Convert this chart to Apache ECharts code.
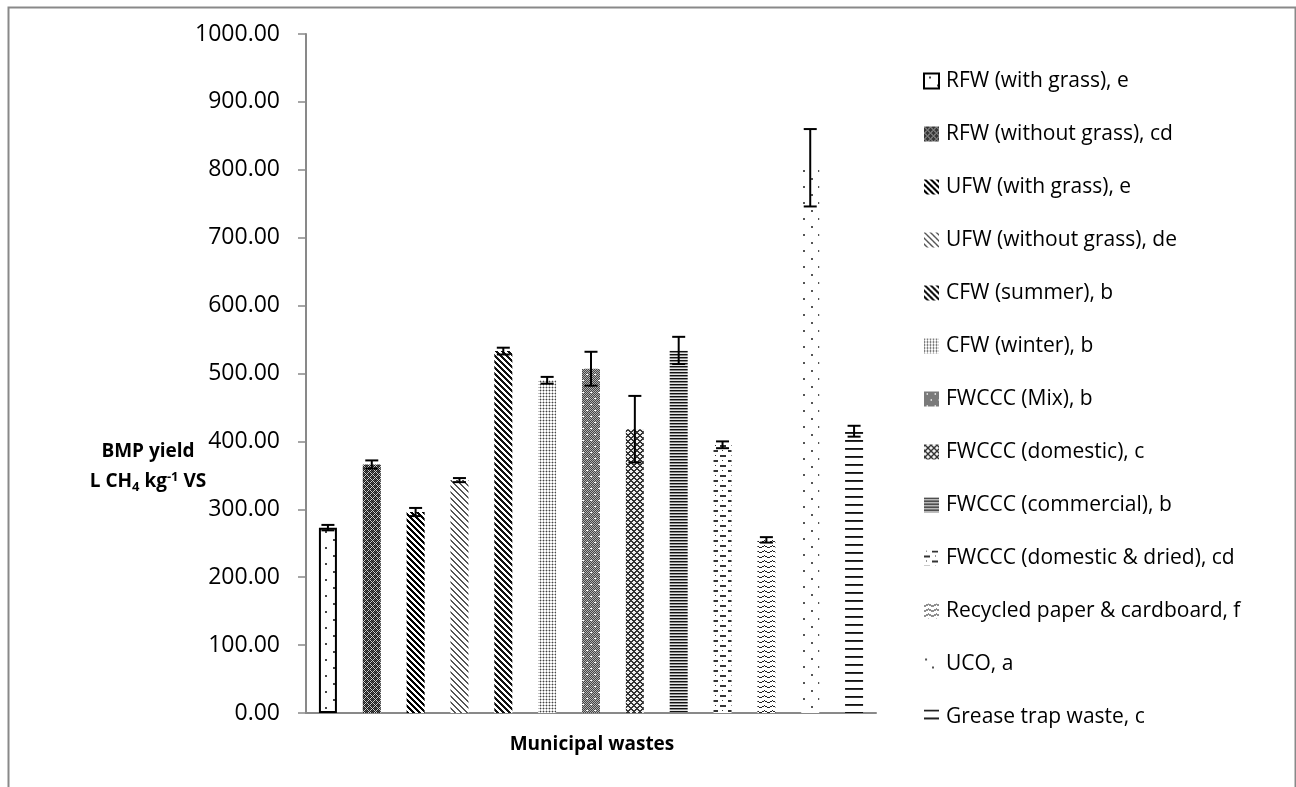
<!DOCTYPE html>
<html>
<head>
<meta charset="utf-8">
<script src="https://cdn.jsdelivr.net/npm/echarts@6/dist/echarts.min.js"></script>
<style>
html,body{margin:0;padding:0;background:#fff;}
#chart{width:1296px;height:787px;}
</style>
</head>
<body>
<div id="chart"></div>
<script>
// ---- data ----
const categories = [
  'RFW (with grass), e',
  'RFW (without grass), cd',
  'UFW (with grass), e',
  'UFW (without grass), de',
  'CFW (summer), b',
  'CFW (winter), b',
  'FWCCC (Mix), b',
  'FWCCC (domestic), c',
  'FWCCC (commercial), b',
  'FWCCC (domestic & dried), cd',
  'Recycled paper & cardboard, f',
  'UCO, a',
  'Grease trap waste, c'
];
const values = [273, 366, 296, 343, 533, 490, 507, 418, 534, 395, 255, 803, 415];
const errors = [4, 6, 6, 3, 5, 5, 25, 49, 20, 5, 4, 57, 8];
const yMin = 0, yMax = 1000, yStep = 100;

// ---- pattern helpers ----
function hex(c){c=c.replace('#','');if(c.length===3)c=c.split('').map(x=>x+x).join('');return [parseInt(c.slice(0,2),16),parseInt(c.slice(2,4),16),parseInt(c.slice(4,6),16)];}
function pat(w,h,fn){
  const c=document.createElement('canvas');c.width=w;c.height=h;
  const ctx=c.getContext('2d');const img=ctx.createImageData(w,h);
  for(let y=0;y<h;y++)for(let x=0;x<w;x++){
    const col=hex(fn(x,y)||'#ffffff');const k=(y*w+x)*4;
    img.data[k]=col[0];img.data[k+1]=col[1];img.data[k+2]=col[2];img.data[k+3]=255;
  }
  ctx.putImageData(img,0,0);
  return {image:c,repeat:'repeat'};
}
const mod=(a,n)=>((a%n)+n)%n;
const dot=(x,y,cx,cy)=>(x>=cx&&x<=cx+1&&y>=cy&&y<=cy+1);
const patterns=[
  // RFW with grass: sparse staggered dots
  pat(16,16,(x,y)=>(dot(x,y,5,3)||dot(x,y,13,11))?'#444':'#fff'),
  // RFW without grass: dark check
  pat(6,6,(x,y)=>{const a=mod(x+y,6),b=mod(x-y,6);return (a===0||b===0)?'#cfcfcf':((x+y)%2?'#1a1a1a':'#555');}),
  // UFW with grass: dark \ stripes
  pat(6,6,(x,y)=>mod(x-y,6)<3?'#000':'#fff'),
  // UFW without grass: light \ stripes
  pat(6,6,(x,y)=>mod(x-y,6)<2?'#555':'#fff'),
  // CFW summer: dark \ stripes
  pat(6,6,(x,y)=>mod(x-y,6)<3?'#111':'#fff'),
  // CFW winter: fine dotted
  pat(3,3,(x,y)=>(x===0&&y===0)?'#444':((x===0||y===0)?'#bbb':'#fff')),
  // FWCCC Mix: gray 50% with white dots
  pat(8,12,(x,y)=>{ if((x===2&&y===2)||(x===6&&y===8)||(x===3&&y===2)||(x===7&&y===8)) return '#fff'; return (x+y)%2?'#444':'#b0b0b0';}),
  // FWCCC domestic: diamond lattice
  pat(6,6,(x,y)=>(mod(x+y,6)<2||mod(x-y,6)<2)?'#333':'#f0f0f0'),
  // FWCCC commercial: dense horizontal
  pat(1,3,(x,y)=>['#111','#8a8a8a','#e6e6e6'][y]),
  // FWCCC domestic & dried: dashes
  pat(16,10,(x,y)=>{
    if((y===0||y===1)&&x>=8&&x<=13) return '#333';
    if(y===0&&x===2) return '#333';
    if((y===5||y===6)&&x>=0&&x<=5) return '#333';
    if(y===5&&x===11) return '#333';
    return '#fff';}),
  // Recycled paper: waves
  pat(8,5,(x,y)=>{const yv=Math.round(Math.abs(x-4)/2);return (y===yv)?'#222':'#fff';}),
  // UCO: sparse dots
  pat(15,16,(x,y)=>(dot(x,y,1,2)||dot(x,y,8,10))?'#555':'#fff'),
  // Grease trap: horizontal lines
  pat(1,8,(x,y)=>y===0?'#111':(y===1?'#333':'#fff'))
];

const bars = categories.map((name,i)=>({
  type:'bar', name, stack:'all', barWidth:18,
  data: values.map((v,j)=> j===i ? v : '-'),
  itemStyle: Object.assign({color: patterns[i]}, i===0 ? {borderColor:'#000', borderWidth:2} : {}),
  emphasis:{disabled:true}
}));

const errSeries = {
  type:'custom', name:'error', silent:true, z:10,
  data: values.map((v,i)=>[i,v,errors[i]]),
  encode:{x:0,y:1},
  renderItem:(params,api)=>{
    const i=api.value(0), v=api.value(1), e=api.value(2);
    const top=api.coord([i,v+e]), bot=api.coord([i,v-e]);
    const hw=6.5;
    const st={stroke:'#000',lineWidth:2};
    return {type:'group',children:[
      {type:'line',shape:{x1:top[0],y1:top[1],x2:bot[0],y2:bot[1]},style:st},
      {type:'line',shape:{x1:top[0]-hw,y1:top[1],x2:top[0]+hw,y2:top[1]},style:st},
      {type:'line',shape:{x1:bot[0]-hw,y1:bot[1],x2:bot[0]+hw,y2:bot[1]},style:st}
    ]};
  }
};

const FONT='"Open Sans", "Noto Sans", sans-serif';
const chart = echarts.init(document.getElementById('chart'), null, {renderer:'canvas'});
chart.setOption({
  animation:false,
  backgroundColor:'#fff',
  textStyle:{fontFamily:FONT},
  grid:{left:306, right:420, top:34, bottom:74, containLabel:false},
  xAxis:{
    type:'category', data:categories,
    axisLabel:{show:false}, axisTick:{show:false},
    axisLine:{lineStyle:{color:'#898989',width:2}},
    splitLine:{show:false}
  },
  yAxis:{
    type:'value', min:yMin, max:yMax, interval:yStep,
    axisLine:{show:true,lineStyle:{color:'#898989',width:2}},
    axisTick:{show:true,length:8,lineStyle:{color:'#898989',width:1.5}},
    splitLine:{show:false},
    axisLabel:{margin:26,fontSize:23,color:'#000',fontFamily:FONT,formatter:v=>v.toFixed(2)}
  },
  legend:{
    data:categories.map(n=>({name:n,icon:'rect'})), orient:'vertical', left:918, top:65,
    itemWidth:15, itemHeight:15, itemGap:31,
    selectedMode:false,
    textStyle:{fontSize:21,color:'#000',fontFamily:FONT,lineHeight:22,padding:[0,0,0,2]}
  },
  graphic:[
    {type:'rect',left:6,top:5,shape:{width:1287,height:800},style:{fill:'none',stroke:'#898989',lineWidth:2},silent:true},
    {type:'text',x:148,y:452,style:{text:'BMP yield',fontSize:19,fontWeight:'bold',fill:'#000',align:'center',verticalAlign:'middle',fontFamily:FONT}},
    {type:'text',x:148,y:482,style:{
      text:'{b|L CH}{sub|4}{b| kg}{sup|-1}{b| VS}',align:'center',verticalAlign:'middle',
      rich:{
        b:{fontSize:19,fontWeight:'bold',fill:'#000',fontFamily:FONT},
        sub:{fontSize:13,fontWeight:'bold',fill:'#000',fontFamily:FONT,padding:[10,0,0,0]},
        sup:{fontSize:13,fontWeight:'bold',fill:'#000',fontFamily:FONT,padding:[0,0,10,0]}
      }}},
    {type:'text',x:592,y:745,style:{text:'Municipal wastes',fontSize:19,fontWeight:'bold',fill:'#000',align:'center',verticalAlign:'middle',fontFamily:FONT}}
  ],
  series:[...bars, errSeries]
});
</script>
</body>
</html>
